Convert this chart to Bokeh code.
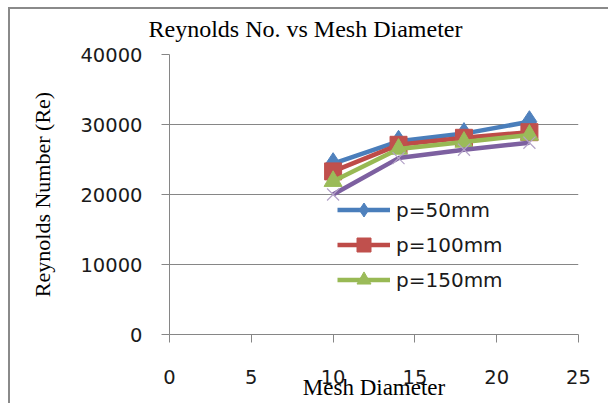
from bokeh.plotting import figure
from bokeh.models import Legend, LegendItem, Range1d, FixedTicker
from bokeh.embed import file_html
from bokeh.resources import INLINE

# ---- data ----
chart_title = "Reynolds No. vs Mesh Diameter"
x_label = "Mesh Diameter"
y_label = "Reynolds Number (Re)"
mesh_diameter = [10, 14, 18, 22]
re_p50 = [24400, 27600, 28700, 30400]
re_p100 = [23300, 27100, 28100, 28900]
re_p150 = [21900, 26500, 27500, 28500]
re_p4 = [20000, 25200, 26400, 27400]
legend_labels = ["p=50mm", "p=100mm", "p=150mm"]
x_ticks = [0, 5, 10, 15, 20, 25]
y_ticks = [0, 10000, 20000, 30000, 40000]

GRID = "#868686"
SANS = "DejaVu Sans"
SERIF = "Liberation Serif"

p = figure(width=608, height=403, output_backend="svg", toolbar_location=None,
           x_range=Range1d(0, 25), y_range=Range1d(0, 40000),
           min_border_left=169, min_border_right=30, min_border_top=53, min_border_bottom=69)
p.background_fill_color = "white"
p.border_fill_alpha = 0
p.outline_line_color = None
p.styles = {
    "background": "linear-gradient(#8a8a8a,#8a8a8a) 8px 7px / 2px 396px no-repeat, "
                  "linear-gradient(#8a8a8a,#8a8a8a) 8px 7px / 600px 2px no-repeat, white"
}

p.title.text = chart_title
p.title.align = "left"
p.title.offset = -21
p.title.standoff = 26
p.title.text_font = SERIF
p.title.text_font_size = "24px"
p.title.text_font_style = "normal"
p.title.text_color = "black"

p.xgrid.grid_line_color = None
p.ygrid.grid_line_color = GRID
p.ygrid.grid_line_width = 1
p.xaxis.ticker = FixedTicker(ticks=x_ticks)
p.yaxis.ticker = FixedTicker(ticks=y_ticks)
for ax in (p.xaxis[0], p.yaxis[0]):
    ax.axis_line_color = GRID
    ax.major_tick_line_color = GRID
    ax.major_tick_in = 0
    ax.major_tick_out = 8
    ax.minor_tick_line_color = None
    ax.major_label_text_font = SANS
    ax.major_label_text_font_size = "19.5px"
    ax.major_label_text_color = "#1a1a1a"
    ax.axis_label_text_font = SERIF
    ax.axis_label_text_font_style = "normal"
    ax.axis_label_text_color = "black"
p.yaxis.major_label_standoff = 19
p.xaxis.major_label_standoff = 27
p.yaxis.axis_label = y_label
p.yaxis.axis_label_text_font_size = "22px"
p.yaxis.axis_label_standoff = 22
p.xaxis.axis_label = x_label
p.xaxis.axis_label_text_font_size = "23px"
p.xaxis.axis_label_standoff = -12

series = [
    (re_p50, "#4A7EBB", "diamond", 22, "#4F81BD"),
    (re_p100, "#BE4B48", "square", 17, "#C0504D"),
    (re_p150, "#98B954", "triangle", 18, "#9BBB59"),
    (re_p4, "#7D60A0", "x", 17, "#B3A2C7"),
]
items = []
for i, (vals, lc, mk, ms, mc) in enumerate(series):
    lr = p.line(mesh_diameter, vals, line_color=lc, line_width=4.5)
    if mk == "x":
        sr = p.scatter(mesh_diameter, vals, marker=mk, size=ms, line_color=mc, line_width=1.2)
    else:
        sr = p.scatter(mesh_diameter, vals, marker=mk, size=ms, fill_color=mc, line_color=mc)
    if i < len(legend_labels):
        items.append(LegendItem(label=legend_labels[i], renderers=[lr, sr]))

legend = Legend(items=items, location=(168, 37), orientation="vertical",
                padding=0, margin=0, spacing=0, glyph_height=35, label_height=20,
                glyph_width=53, label_standoff=6,
                border_line_color=None, background_fill_alpha=0,
                label_text_font=SANS, label_text_font_size="20px", label_text_color="#1a1a1a")
p.add_layout(legend, "center")

open("out.html", "w").write(file_html(p, INLINE))
